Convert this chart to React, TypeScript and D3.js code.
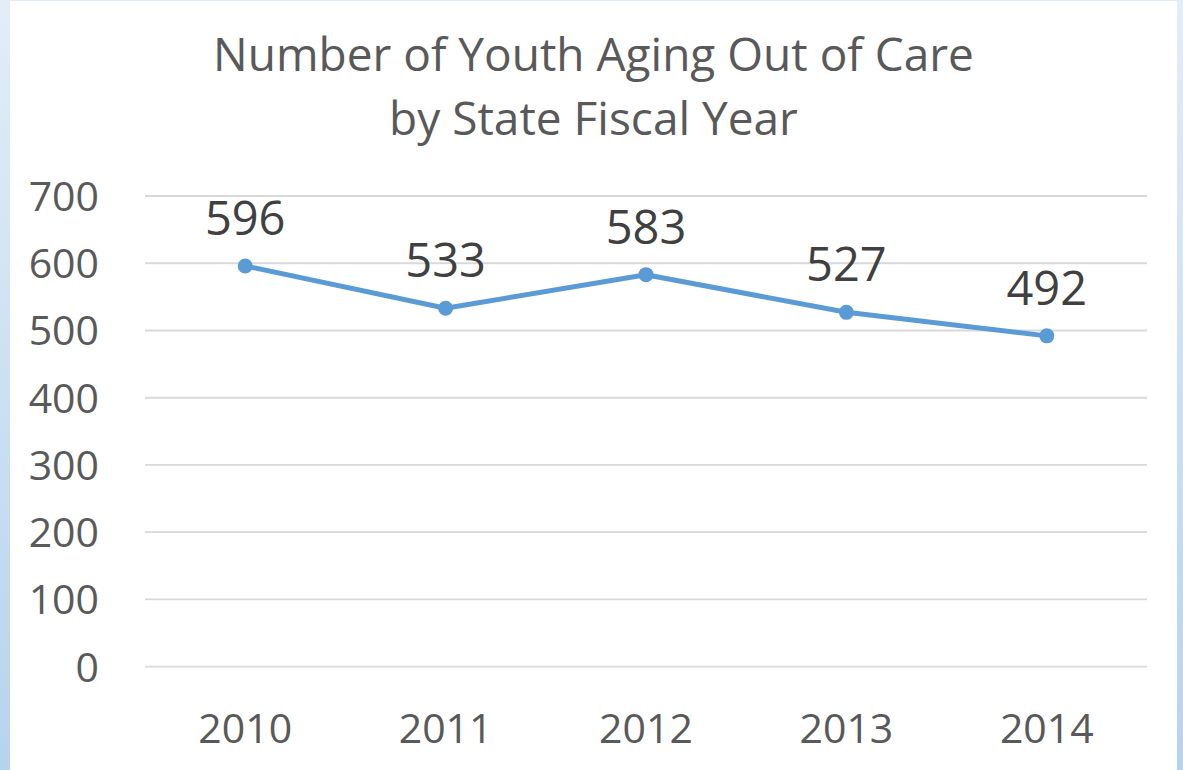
import React from "react";
import * as d3 from "d3";

const years: string[] = ["2010", "2011", "2012", "2013", "2014"];
const youthCounts: number[] = [596, 533, 583, 527, 492];
const yTicks: number[] = [0, 100, 200, 300, 400, 500, 600, 700];
const titleLines: string[] = ["Number of Youth Aging Out of Care", "by State Fiscal Year"];

const W = 1183;
const H = 770;
const FONT = "'Open Sans', 'Noto Sans', sans-serif";

export default function App() {
  const x = d3.scaleBand<string>().domain(years).range([145, 1147]).paddingInner(0).paddingOuter(0);
  const y = d3.scaleLinear().domain([0, 700]).range([666.7, 196]);
  const cx = (d: string) => (x(d) as number) + x.bandwidth() / 2;
  const data = years.map((yr, i) => ({ yr, v: youthCounts[i] }));
  const line = d3
    .line<{ yr: string; v: number }>()
    .x((d) => cx(d.yr))
    .y((d) => y(d.v));

  return (
    <svg
      width={W}
      height={H}
      style={{ position: "absolute", left: 0, top: 0, display: "block" }}
      fontFamily={FONT}
    >
      <defs>
        <linearGradient id="edge" x1="0" y1="0" x2="0" y2="1">
          <stop offset="0" stopColor="#e2edf8" />
          <stop offset="1" stopColor="#b6d3ee" />
        </linearGradient>
      </defs>
      <rect x={0} y={0} width={W} height={H} fill="url(#edge)" />
      <rect x={10} y={1} width={1167} height={H - 1} fill="#ffffff" />

      {titleLines.map((t, i) => (
        <text
          key={t}
          x={593.5}
          y={71 + i * 64}
          textAnchor="middle"
          fontSize={46}
          fill="#595959"
        >
          {t}
        </text>
      ))}

      {yTicks.map((t) => (
        <g key={t}>
          <line x1={145} x2={1147} y1={y(t)} y2={y(t)} stroke="#d9d9d9" strokeWidth={1.8} />
          <text x={99} y={y(t) + 15} textAnchor="end" fontSize={41} fill="#595959">
            {t}
          </text>
        </g>
      ))}

      {years.map((yr) => (
        <text key={yr} x={cx(yr)} y={743} textAnchor="middle" fontSize={41} fill="#595959">
          {yr}
        </text>
      ))}

      <path d={line(data) || ""} fill="none" stroke="#5b9bd5" strokeWidth={5} strokeLinejoin="round" />
      {data.map((d) => (
        <circle key={d.yr} cx={cx(d.yr)} cy={y(d.v)} r={7.5} fill="#5b9bd5" />
      ))}
      {data.map((d) => (
        <text
          key={"l" + d.yr}
          x={cx(d.yr)}
          y={y(d.v) - 31}
          textAnchor="middle"
          fontSize={47}
          fill="#404040"
        >
          {d.v}
        </text>
      ))}
    </svg>
  );
}
